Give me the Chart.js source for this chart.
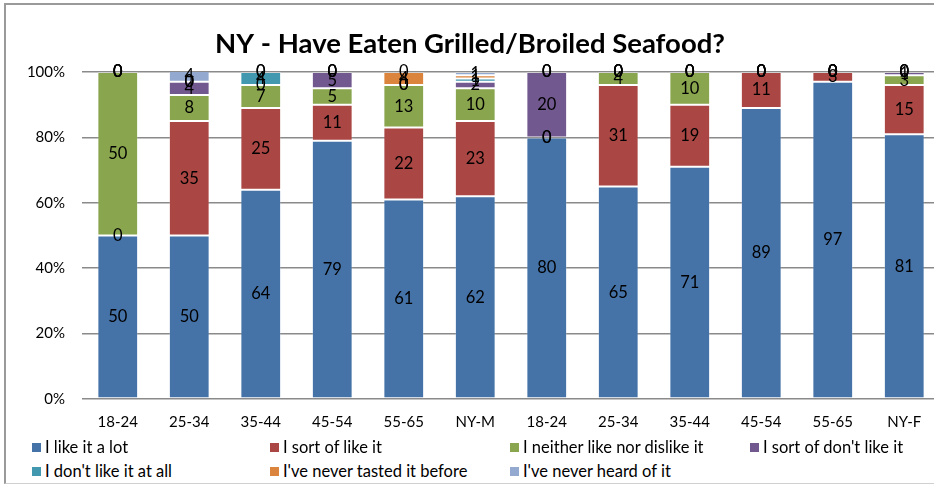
<!DOCTYPE html>
<html>
<head>
<meta charset="utf-8">
<script src="https://cdn.jsdelivr.net/npm/chart.js@4"></script>
<style>
  html, body { margin: 0; padding: 0; background: #fff; overflow: hidden; }
  #wrap { position: relative; width: 934px; height: 484px; overflow: hidden; }
  #frame { position: absolute; left: 4px; top: 3px; width: 960px; height: 478px;
           border-left: 2px solid #9a9a9a; border-top: 2px solid #9a9a9a; border-bottom: 1px solid #d0d0d0; }
  #chartBox { position: absolute; left: 0; top: 0; width: 940px; height: 440px; }
  #legend { position: absolute; left: 0; top: 437px; width: 934px; font-family: Lato, sans-serif; font-size: 16.5px; color: #000; }
  .item { position: absolute; display: flex; align-items: center; white-space: nowrap; }
  .sw { width: 9px; height: 9px; margin-right: 4px; }
</style>
</head>
<body>
<div id="wrap">
  <div id="frame"></div>
  <div id="chartBox"><canvas id="chart" width="940" height="440"></canvas></div>
  <div id="legend"></div>
</div>
<script>
const categories = ['18-24', '25-34', '35-44', '45-54', '55-65', 'NY-M', '18-24', '25-34', '35-44', '45-54', '55-65', 'NY-F'];

const likeALot     = [50, 50, 64, 79, 61, 62, 80, 65, 71, 89, 97, 81];
const sortOfLike   = [0, 35, 25, 11, 22, 23, 0, 31, 19, 11, 3, 15];
const neither      = [50, 8, 7, 5, 13, 10, 0, 4, 10, 0, 0, 3];
const sortOfDont   = [0, 4, 0, 5, 0, 2, 20, 0, 0, 0, 0, 1];
const dontLike     = [0, 0, 4, 0, 0, 1, 0, 0, 0, 0, 0, 0];
const neverTasted  = [0, 0, 0, 0, 4, 1, 0, 0, 0, 0, 0, 0];
const neverHeard   = [0, 4, 0, 0, 0, 1, 0, 0, 0, 0, 0, 0];

const seriesNames = ['I like it a lot', 'I sort of like it', 'I neither like nor dislike it',
  "I sort of don't like it", "I don't like it at all", "I've never tasted it before", "I've never heard of it"];
const seriesData = [likeALot, sortOfLike, neither, sortOfDont, dontLike, neverTasted, neverHeard];
const colors = ['#4572A7', '#AA4643', '#89A54E', '#71588F', '#4198AF', '#DB843D', '#93A9CF'];

const yTicks = [0, 20, 40, 60, 80, 100];

const FONT = 'Lato, sans-serif';

// draw value labels in the middle of each segment (zeros included, like Excel)
const segmentLabels = {
  id: 'segmentLabels',
  afterDatasetsDraw(chart) {
    const ctx = chart.ctx;
    ctx.save();
    ctx.font = '16.5px ' + FONT;
    ctx.fillStyle = '#000';
    ctx.textAlign = 'center';
    ctx.textBaseline = 'middle';
    chart.data.datasets.forEach((ds, i) => {
      chart.getDatasetMeta(i).data.forEach((bar, j) => {
        const p = bar.getCenterPoint();
        ctx.fillText(String(ds.data[j]), p.x, p.y);
      });
    });
    ctx.restore();
  }
};

const ctx = document.getElementById('chart').getContext('2d');
new Chart(ctx, {
  type: 'bar',
  data: {
    labels: categories,
    datasets: seriesData.map((d, i) => ({
      label: seriesNames[i],
      data: d,
      backgroundColor: colors[i],
      borderColor: 'rgba(255,255,255,0.2)',
      borderWidth: 1,
      borderSkipped: false,
      categoryPercentage: 1,
      barPercentage: 0.57,
    })),
  },
  options: {
    responsive: false,
    animation: false,
    layout: { padding: { left: 0, right: 0, top: 0, bottom: 0 } },
    plugins: {
      legend: { display: false },
      tooltip: { enabled: false },
      title: {
        display: true,
        text: 'NY - Have Eaten Grilled/Broiled Seafood?',
        color: '#000',
        font: { family: FONT, size: 27.5, weight: 'bold' },
        padding: { top: 28, bottom: 11 },
      },
    },
    scales: {
      x: {
        stacked: true,
        grid: { display: false, drawTicks: false },
        border: { display: false },
        ticks: { color: '#000', font: { family: FONT, size: 15 }, padding: 14, maxRotation: 0, autoSkip: false },
        afterFit(s) { s.height = 41; },
      },
      y: {
        stacked: true,
        min: 0,
        max: 100,
        afterBuildTicks(s) { s.ticks = yTicks.map(v => ({ value: v })); },
        grid: { color: '#8a8a8a', lineWidth: 1.5, drawTicks: false },
        border: { display: false },
        ticks: { color: '#000', font: { family: FONT, size: 15 }, padding: 17, callback: v => v + '%' },
        afterFit(s) { s.width = 82; },
      },
    },
  },
  plugins: [segmentLabels],
});

// legend laid out on a grid like the original
const legendEl = document.getElementById('legend');
const colX = [32, 270, 510, 750];
seriesNames.forEach((name, i) => {
  const item = document.createElement('div');
  item.className = 'item';
  item.style.left = colX[i % 4] + 'px';
  item.style.top = (Math.floor(i / 4) * 24) + 'px';
  item.innerHTML = '<span class="sw" style="background:' + colors[i] + '"></span><span></span>';
  item.lastChild.textContent = name;
  legendEl.appendChild(item);
});
</script>
</body>
</html>
